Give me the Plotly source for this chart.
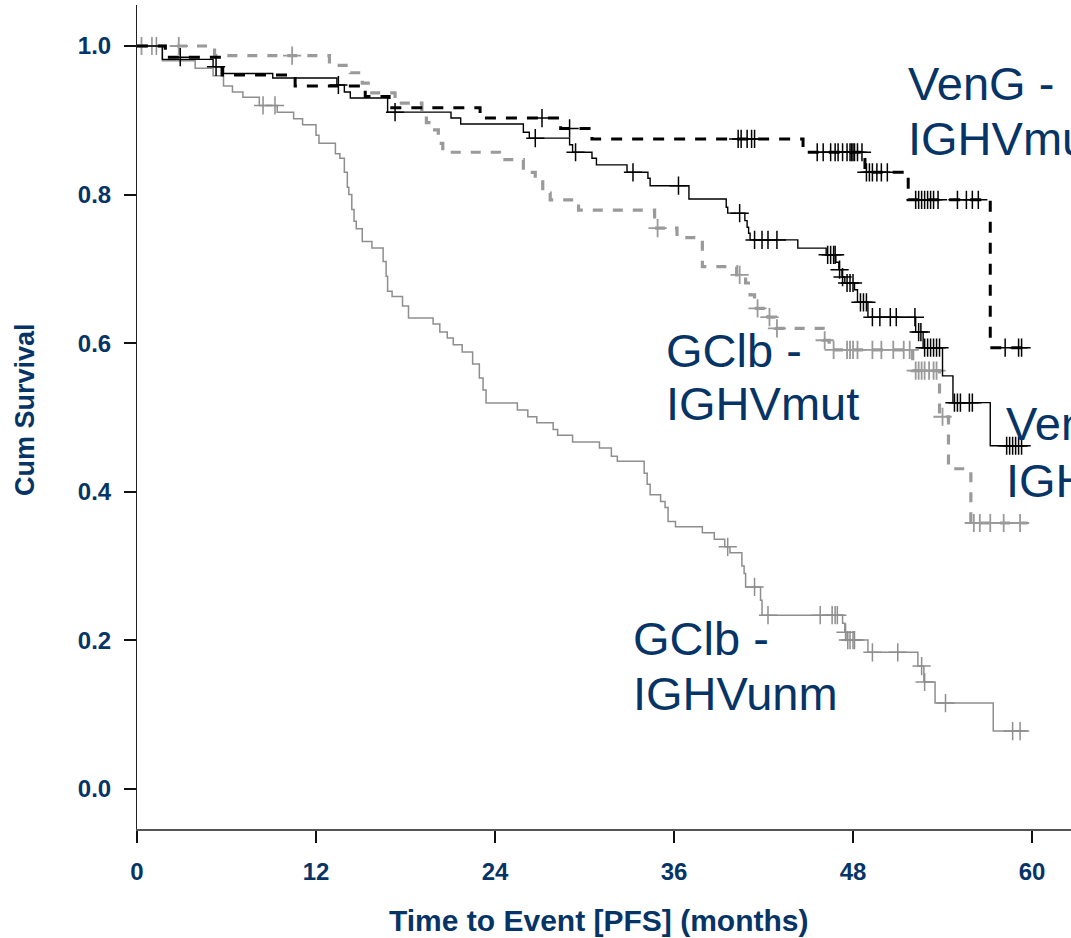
import plotly.graph_objects as go

NAVY = "#063466"
FONT = "Liberation Sans, Arial, sans-serif"

# ---------------- data (months, cumulative survival) ----------------
# GClb - IGHVmut (gray dashed)
gm_t = [5.2, 12.9, 14.3, 15.1, 15.5, 17.3, 19.1, 19.4, 19.8, 20.2, 20.5, 24.3, 25.9, 26.7,
        27.2, 27.7, 29.6, 34.7, 36.2, 37.9, 40.2, 40.8, 41.1, 41.4, 42.3, 42.8, 46.0, 46.4,
        52.0, 53.8, 54.4, 55.9]
gm_s = [0.987, 0.974, 0.964, 0.950, 0.937, 0.923, 0.910, 0.897, 0.887, 0.869, 0.857, 0.847,
        0.830, 0.820, 0.802, 0.793, 0.779, 0.755, 0.742, 0.703, 0.692, 0.681, 0.665, 0.647,
        0.635, 0.620, 0.604, 0.591, 0.563, 0.501, 0.431, 0.358]
gm_cens = [0.3, 2.8, 10.4, 34.9, 40.4, 41.6, 42.4, 42.9, 46.1, 46.7, 47.6, 47.8, 48.0, 48.3,
           49.3, 49.9, 50.7, 51.4, 51.8, 52.2, 52.4, 52.6, 52.8, 53.1, 53.4, 53.6, 54.0,
           56.1, 56.5, 57.2, 58.1, 59.2]
gm_end = 59.7

# VenG - IGHVmut (black dashed)
vm_t = [1.9, 5.7, 10.6, 15.3, 16.9, 23.0, 28.4, 30.5, 44.65, 48.8, 51.7, 57.2]
vm_s = [0.985, 0.961, 0.946, 0.932, 0.917, 0.903, 0.889, 0.875, 0.857, 0.830, 0.793, 0.594]
vm_cens = [2.9, 27.15, 29.0, 40.3, 40.5, 40.9, 41.2, 41.4, 45.6, 46.0, 46.5, 46.8, 47.0, 47.3,
           47.6, 47.8, 47.9, 48.0, 48.1, 48.3, 48.6, 48.9, 49.1, 49.3, 49.6, 49.9, 50.3, 52.2,
           52.4, 52.6, 52.8, 53.0, 53.2, 53.4, 53.7, 55.0, 55.6, 56.0, 56.4, 58.2, 59.1, 59.3]
vm_end = 59.9

# VenG - IGHVunm (black solid)
vu_t = [1.7, 5.1, 5.8, 9.1, 13.4, 13.9, 14.3, 16.8, 21.05, 21.7, 25.9, 26.3, 29.0, 29.2,
        30.5, 30.8, 32.85, 34.25, 34.4, 37.0, 39.5, 39.6, 40.75, 40.9, 41.0, 41.1, 44.3,
        46.2, 46.85, 47.05, 47.26, 47.45, 48.1, 48.3, 49.0, 52.2, 52.7, 54.0, 54.7, 57.2]
vu_s = [0.982, 0.972, 0.963, 0.957, 0.9475, 0.938, 0.930, 0.911, 0.903, 0.895, 0.884, 0.876,
        0.867, 0.857, 0.849, 0.840, 0.830, 0.822, 0.812, 0.794, 0.783, 0.775, 0.765, 0.756,
        0.748, 0.739, 0.728, 0.719, 0.709, 0.699, 0.689, 0.681, 0.672, 0.655, 0.635, 0.615,
        0.594, 0.556, 0.520, 0.462]
vu_cens = [5.3, 13.5, 17.3, 26.7, 29.4, 33.25, 36.3, 40.4, 41.4, 41.9, 42.3, 42.9, 46.3, 46.5,
           46.7, 46.8, 47.1, 47.3, 47.6, 47.8, 48.0, 48.5, 48.7, 48.9, 49.3, 49.8, 50.5, 50.9,
           52.15, 52.4, 52.55, 52.8, 53.0, 53.2, 53.4, 53.6, 53.8, 54.8, 55.0, 55.2, 55.8,
           56.0, 58.3, 58.5, 58.7, 58.9, 59.1, 59.3]
vu_end = 59.7

# GClb - IGHVunm (gray solid)
gu_t = [1.7, 3.9, 5.1, 5.8, 6.4, 7.1, 8.2, 9.4, 10.5, 11.1, 12.0, 12.2, 13.3, 13.6, 13.9,
        14.1, 14.2, 14.4, 14.55, 14.7, 15.1, 15.75, 16.5, 16.7, 16.8, 17.1, 17.8, 18.2,
        19.85, 20.3, 20.8, 21.2, 21.8, 22.5, 22.95, 23.2, 23.4, 25.5, 26.2, 26.8, 27.9,
        28.2, 29.2, 31.0, 31.8, 32.2, 34.0, 34.2, 34.4, 35.1, 35.4, 35.6, 36.1, 37.9, 38.7,
        39.4, 39.75, 40.55, 40.7, 40.8, 41.8, 41.9, 47.3, 47.45, 47.6, 49.0, 52.35, 52.75,
        53.5, 57.4]
gu_s = [0.980, 0.970, 0.960, 0.946, 0.938, 0.931, 0.920, 0.911, 0.902, 0.894, 0.880, 0.869,
        0.855, 0.849, 0.830, 0.810, 0.800, 0.780, 0.764, 0.754, 0.737, 0.728, 0.710, 0.690,
        0.670, 0.663, 0.650, 0.634, 0.626, 0.615, 0.607, 0.598, 0.588, 0.572, 0.553, 0.537,
        0.5195, 0.510, 0.501, 0.493, 0.484, 0.476, 0.467, 0.459, 0.448, 0.441, 0.425, 0.410,
        0.396, 0.387, 0.379, 0.360, 0.353, 0.345, 0.336, 0.326, 0.318, 0.300, 0.290, 0.272,
        0.254, 0.234, 0.223, 0.211, 0.2005, 0.184, 0.1655, 0.144, 0.1157, 0.078]
gu_cens = [1.0, 1.3, 8.45, 9.25, 39.6, 41.4, 42.3, 45.8, 46.6, 46.8, 46.95, 47.5, 47.65, 47.8,
           48.0, 48.1, 49.3, 51.0, 52.6, 52.8, 54.2, 58.7, 59.2]
gu_end = 59.7

x_ticks = [0, 12, 24, 36, 48, 60]
y_ticks = [0.0, 0.2, 0.4, 0.6, 0.8, 1.0]
y_ticktext = ["0.0", "0.2", "0.4", "0.6", "0.8", "1.0"]

labels = [  # text, x (months), y (survival)
    ("VenG -", 51.55, 0.9495), ("IGHVmut", 51.55, 0.8755),
    ("GClb -", 35.3, 0.590), ("IGHVmut", 35.3, 0.519),
    ("VenG -", 58.1, 0.492), ("IGHVunm", 58.1, 0.415),
    ("GClb -", 33.1, 0.2026), ("IGHVunm", 33.1, 0.1285),
]

assert len(gm_t) == len(gm_s) and len(vm_t) == len(vm_s)
assert len(vu_t) == len(vu_s) and len(gu_t) == len(gu_s)


def step_value(t_ev, s_ev, t):
    v = 1.0
    for te, se in zip(t_ev, s_ev):
        if te <= t:
            v = se
        else:
            break
    return v


fig = go.Figure()


def add_curve(t_ev, s_ev, cens, end, color, width, dash, msize, mwidth):
    xs = [0.0] + list(t_ev) + [end]
    ys = [1.0] + list(s_ev) + [s_ev[-1]]
    fig.add_trace(go.Scatter(x=xs, y=ys, mode="lines",
                             line=dict(color=color, width=width, dash=dash, shape="hv"),
                             hoverinfo="skip", showlegend=False))
    cy = [step_value(t_ev, s_ev, c) for c in cens]
    fig.add_trace(go.Scatter(x=cens, y=cy, mode="markers",
                             marker=dict(symbol="cross-thin", size=msize,
                                         line=dict(color=color, width=mwidth)),
                             hoverinfo="skip", showlegend=False))


add_curve(gu_t, gu_s, gu_cens, gu_end, "#8e8e8e", 1.5, "solid", 13, 1.5)
add_curve(gm_t, gm_s, gm_cens, gm_end, "#9a9a9a", 3.2, "10px,10px", 13, 1.8)
add_curve(vu_t, vu_s, vu_cens, vu_end, "#000000", 1.4, "solid", 13, 1.5)
add_curve(vm_t, vm_s, vm_cens, vm_end, "#000000", 3.0, "11px,10px", 13, 1.5)

for txt, lx, ly in labels:
    fig.add_annotation(x=lx, y=ly, xref="x", yref="y", text=txt, showarrow=False,
                       xanchor="left", yanchor="middle",
                       font=dict(family=FONT, size=47, color=NAVY))

# axis titles
fig.add_annotation(x=0.5 * (393 + 803 - 2 * 137) / 934, y=(829 - 920) / 824,
                   xref="paper", yref="paper", text="Time to Event [PFS] (months)",
                   showarrow=False, xanchor="center", yanchor="middle",
                   font=dict(family=FONT, size=30, color=NAVY, weight="bold"))
fig.add_annotation(x=(25 - 137) / 934, y=(829 - 410) / 824,
                   xref="paper", yref="paper", text="Cum Survival", textangle=-90,
                   showarrow=False, xanchor="center", yanchor="middle",
                   font=dict(family=FONT, size=27, color=NAVY, weight="bold"))

fig.update_layout(
    width=1071, height=938,
    margin=dict(l=137, r=0, t=5, b=109, pad=0),
    plot_bgcolor="white", paper_bgcolor="white", showlegend=False,
)
fig.update_xaxes(
    range=[0, 934 / 14.917], tickvals=x_ticks, ticktext=[str(v) for v in x_ticks],
    ticks="outside", ticklen=12, tickwidth=1.5, tickcolor="#111",
    showline=True, linecolor="#555", linewidth=1.5, showgrid=False, zeroline=False,
    tickfont=dict(family=FONT, size=24, color=NAVY, weight="bold"),
    ticklabelstandoff=8,
)
fig.update_yaxes(
    range=[-40 / 743, 1 + 41 / 743], tickvals=y_ticks, ticktext=y_ticktext,
    ticks="outside", ticklen=12, tickwidth=1.5, tickcolor="#111",
    showline=True, linecolor="#222", linewidth=1, showgrid=False, zeroline=False,
    tickfont=dict(family=FONT, size=24, color=NAVY, weight="bold"),
    ticklabelstandoff=8,
)

fig.write_html("out.html")
